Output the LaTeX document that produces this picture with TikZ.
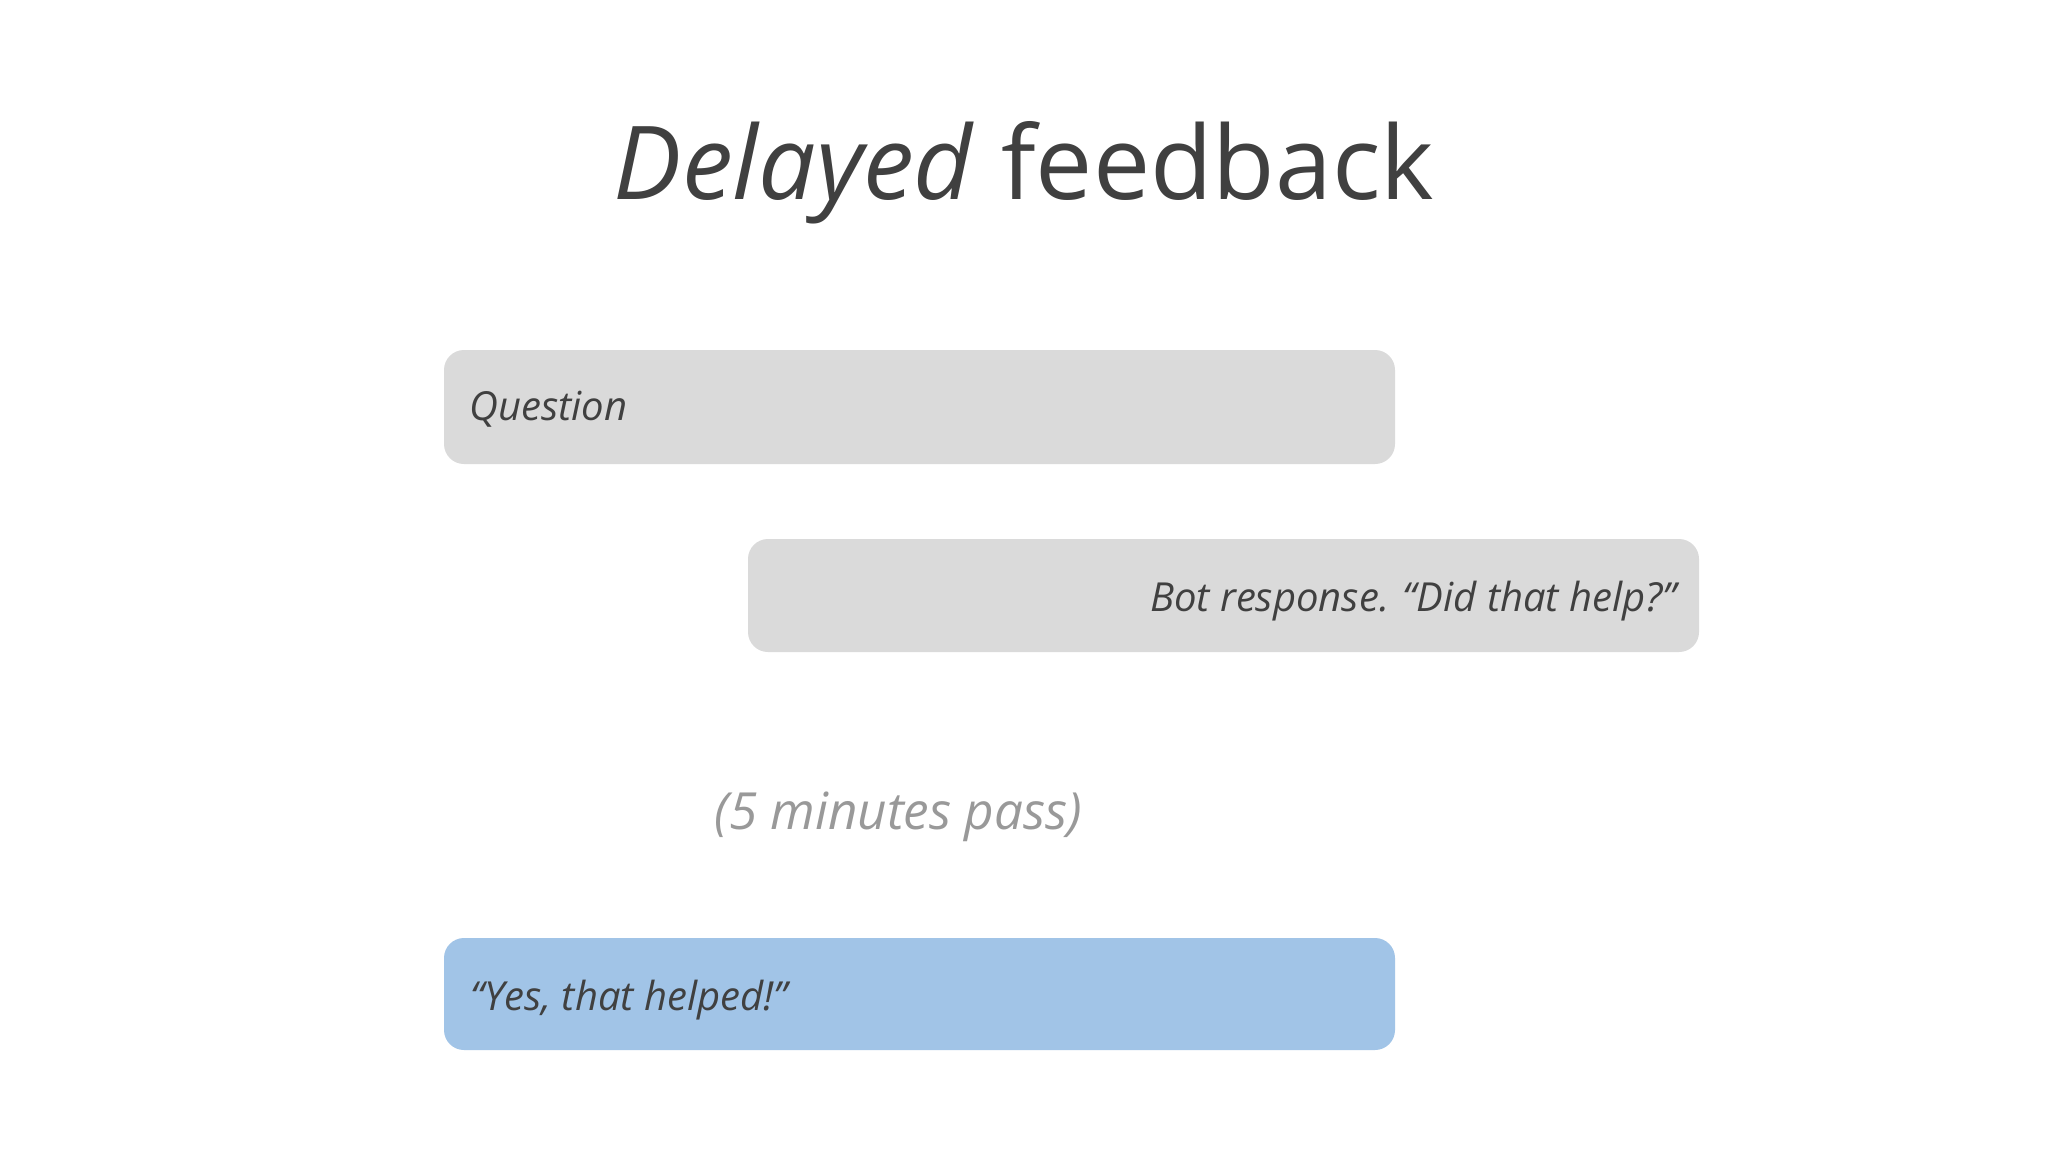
\documentclass[tikz,border=0pt]{standalone}
\usepackage{fontspec}
\setmainfont{Open Sans}
\definecolor{txt}{HTML}{404040}
\definecolor{boxgray}{HTML}{DADADA}
\definecolor{boxblue}{HTML}{A1C4E7}
\definecolor{pass}{HTML}{999999}
\begin{document}
\begin{tikzpicture}[x=0.5pt,y=-0.5pt,
  bubble/.style={rounded corners=10pt},
  bubtext/.style={inner sep=0pt,text=txt,font=\fontsize{20}{24}\selectfont\itshape}]
\useasboundingbox (0,0) rectangle (2048,1152);
\fill[white] (0,0) rectangle (2048,1152);
% title
\node[inner sep=0pt,anchor=base,text=txt,font=\fontsize{51}{60}\selectfont] (title) at (1024,199) {\textit{Delayed} feedback};
% bubbles
\fill[boxgray,bubble] (444,350) rectangle (1395,464);
\coordinate (q) at (469,420);
\node[bubtext,anchor=base west] (qtext) at (q) {Question};
\fill[boxgray,bubble] (748,539) rectangle (1699,652);
\coordinate (b) at (1677,611);
\node[bubtext,anchor=base east] (btext) at (b) {Bot response. “Did that help?”};
\node[inner sep=0pt,anchor=base west,text=pass,font=\fontsize{25.6}{30}\selectfont\itshape] (pass) at (714,829) {(5 minutes pass)};
\fill[boxblue,bubble] (444,938) rectangle (1395,1050);
\node[bubtext,anchor=base west] (ytext) at (470,1010) {“Yes, that helped!”};
\end{tikzpicture}
\end{document}
